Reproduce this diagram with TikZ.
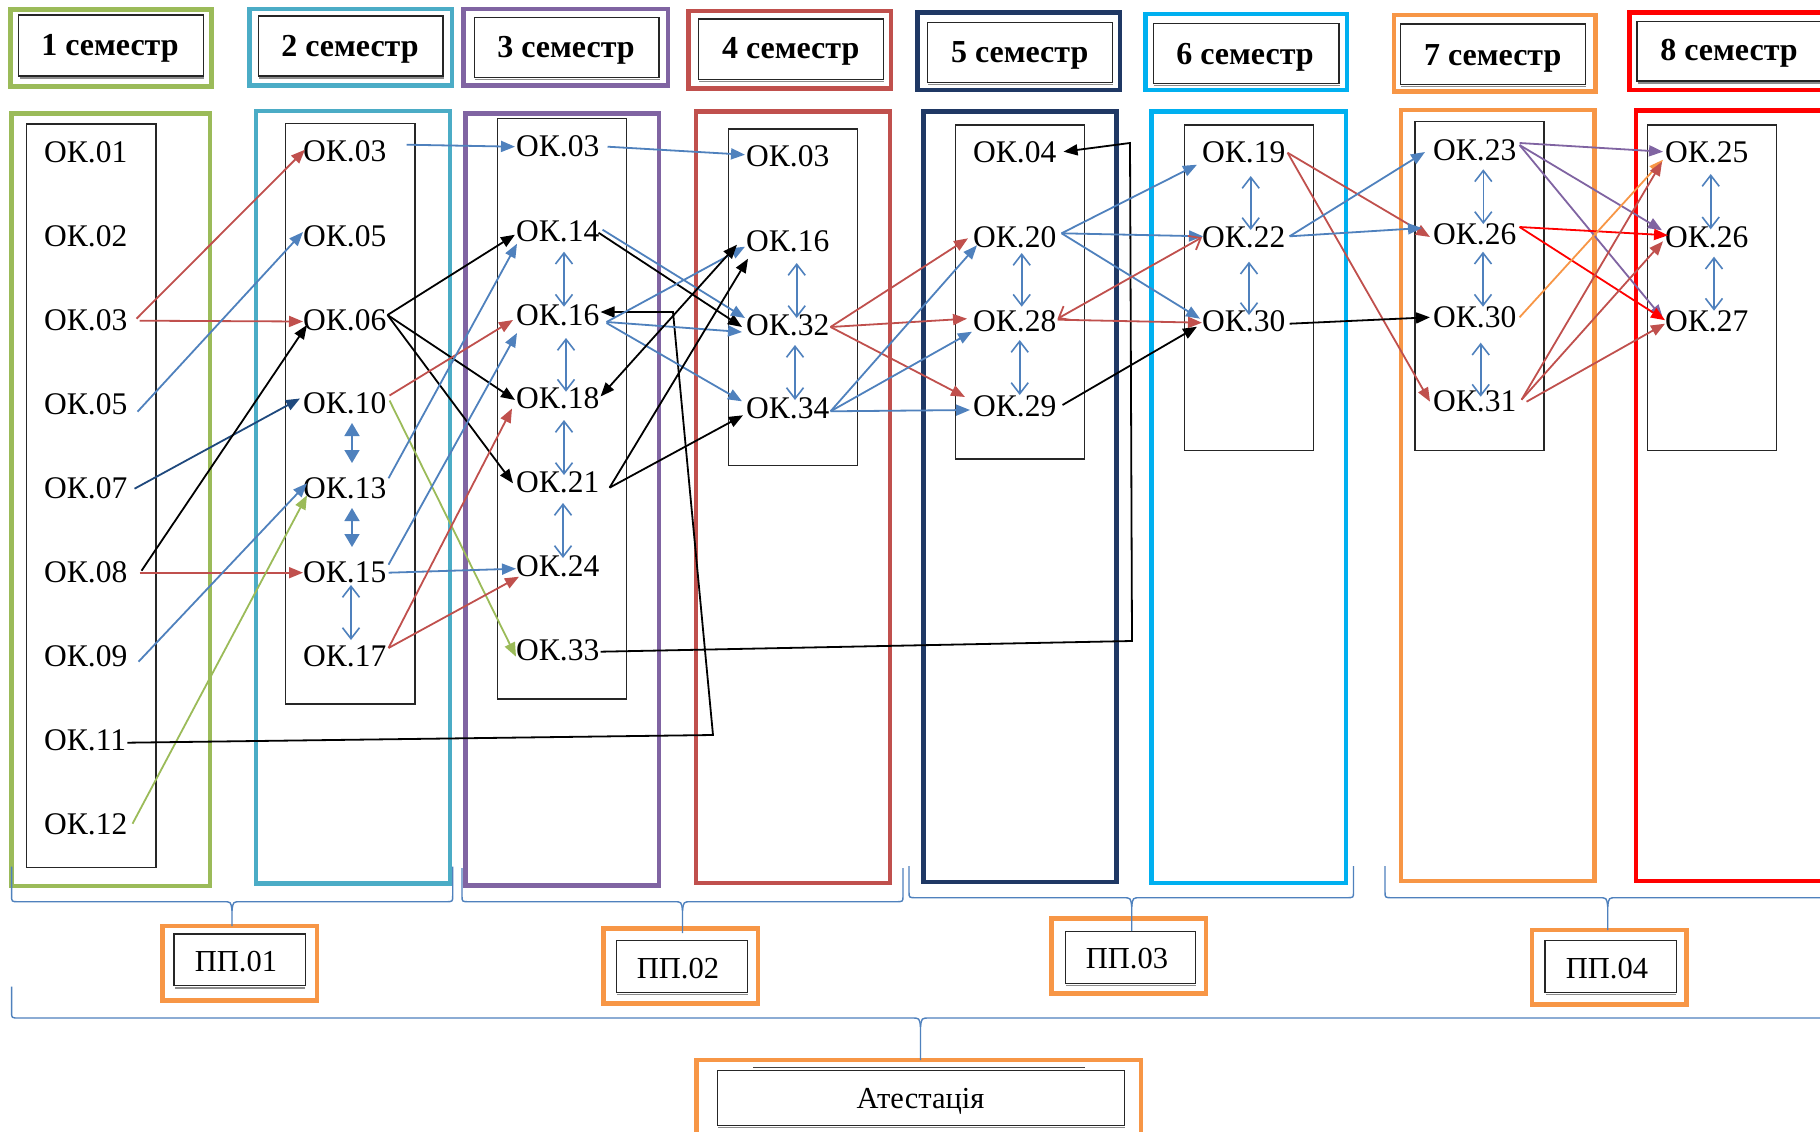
\documentclass[tikz,border=0pt]{standalone}
\usepackage{fontspec}
\setmainfont{Liberation Serif}
\usetikzlibrary{arrows.meta}
\definecolor{cred}{HTML}{C0504D}
\definecolor{cblue}{HTML}{4F81BD}
\definecolor{cnavy}{HTML}{1F497D}
\definecolor{cgreen}{HTML}{9BBB59}
\definecolor{cpurple}{HTML}{8064A2}
\definecolor{corange}{HTML}{F79646}
\definecolor{cbred}{HTML}{FF0000}
\definecolor{cteal}{HTML}{4BACC6}
\definecolor{cdnavy}{HTML}{1F3864}
\definecolor{ccyan}{HTML}{00B0F0}
\newcommand{\wbrace}[6]{%
 \draw[bracestyle] (#1,#3) -- (#1,#4-6) .. controls (#1,#4) .. (#1+7,#4) -- (#5-9,#4) .. controls (#5-1,#4) .. (#5,#4+9) -- (#5,#6);
 \draw[bracestyle] (#5,#4+9) .. controls (#5+1,#4) .. (#5+9,#4) -- (#2-7,#4) .. controls (#2,#4) .. (#2,#4-6) -- (#2,#3);}
\begin{document}
\begin{tikzpicture}[x=1pt,y=-1pt,
  ok/.style={font=\fontsize{31.5}{36}\selectfont, inner sep=0pt, anchor=west},
  sem/.style={font=\fontsize{32}{36}\selectfont\bfseries, inner sep=0pt, anchor=base},
  pp/.style={font=\fontsize{30.5}{36}\selectfont, inner sep=0pt},
  ar/.style={line width=1.8pt, -{Triangle[length=14pt,width=11pt]}},
  bar/.style={line width=1.8pt, {Triangle[length=14pt,width=11pt]}-{Triangle[length=14pt,width=11pt]}},
  oar/.style={line width=1.8pt, {Straight Barb[length=10pt,width=16pt]}-{Straight Barb[length=10pt,width=16pt]}},
  vd/.style={cblue, line width=1.6pt, {Straight Barb[length=11pt,width=17pt]}-{Straight Barb[length=11pt,width=17pt]}},
  vdf/.style={cblue, line width=1.6pt, {Triangle[length=13pt,width=15pt]}-{Triangle[length=13pt,width=15pt]}},
  outerbox/.style={line width=4.5pt},
  innerbox/.style={line width=1.3pt, draw=black!85},
  shadowline/.style={line width=1.5pt, black!45},
  bracestyle/.style={cblue, line width=1.4pt}]
\useasboundingbox (0,0) rectangle (1820,1132);
\clip (0,0) rectangle (1820,1132);
\fill[white] (0,0) rectangle (1820,1132);

% ---------- semester headers ----------
\draw[outerbox, cgreen]  (10.6,9.3) rectangle (211.3,86.7);
\draw[outerbox, cteal]   (249.4,9) rectangle (451.9,85.7);
\draw[outerbox, cpurple] (463.6,9) rectangle (667.8,85.7);
\draw[outerbox, cred]    (688.4,11) rectangle (890.8,88.3);
\draw[outerbox, cdnavy]  (917.6,12.7) rectangle (1120,90);
\draw[outerbox, ccyan]   (1145.3,14) rectangle (1347.2,90);
\draw[outerbox, corange] (1394,15) rectangle (1595.4,91.7);
\draw[outerbox, cbred]   (1629.5,12.7) rectangle (1860,90);
\draw[innerbox] (18.8,15) rectangle (203.6,76);
\draw[innerbox] (258.2,16) rectangle (443,76);
\draw[innerbox] (474.2,17.3) rectangle (659,77.3);
\draw[innerbox] (698.4,19) rectangle (883.2,79.3);
\draw[innerbox] (927.6,22.3) rectangle (1112.4,82.3);
\draw[innerbox] (1153.5,23.3) rectangle (1339,83.3);
\draw[innerbox] (1400.6,24) rectangle (1585.4,84.3);
\draw[innerbox] (1637,21.7) rectangle (1850,81);
\foreach \xa/\xb/\yy in {20/204/78, 259/444/78, 475/660/79.3, 699/884/81.3, 928/1113/84.3, 1154/1340/85.3, 1401/1586/86.3, 1638/1850/83}
  \draw[shadowline] (\xa,\yy) -- (\xb,\yy);
\node[sem] (s1) at (110,56) {1 семестр};
\node[sem] (s2) at (350,57) {2 семестр};
\node[sem] (s3) at (566,58) {3 семестр};
\node[sem] (s4) at (790.7,59) {4 семестр};
\node[sem] (s5) at (1019.7,63) {5 семестр};
\node[sem] (s6) at (1245,64) {6 семестр};
\node[sem] (s7) at (1492.7,66) {7 семестр};
\node[sem] (s8) at (1729,61) {8 семестр};

% ---------- column boxes ----------
\draw[outerbox, cgreen]  (11.7,113.3) rectangle (210,886);
\draw[outerbox, cteal]   (256,111) rectangle (450,883.3);
\draw[outerbox, cpurple] (465.7,113.3) rectangle (659,885.6);
\draw[outerbox, cred]    (696,111.7) rectangle (890,883);
\draw[outerbox, cdnavy]  (923.3,111.7) rectangle (1116.7,882);
\draw[outerbox, ccyan]   (1151.7,111.7) rectangle (1346,883);
\draw[outerbox, corange] (1401,110) rectangle (1594.3,881);
\draw[outerbox, cbred]   (1636,110.7) rectangle (1860,881);
\draw[innerbox] (26.7,124) rectangle (156,867.7);
\draw[innerbox] (285.7,123.3) rectangle (415,704);
\draw[innerbox] (497.7,118.3) rectangle (626.7,699);
\draw[innerbox] (728.3,129) rectangle (857.3,465.7);
\draw[innerbox] (955.3,125) rectangle (1084.3,459);
\draw[innerbox] (1184.3,125) rectangle (1313.7,450.7);
\draw[innerbox] (1415,121.7) rectangle (1544,450.7);
\draw[innerbox] (1647.3,125) rectangle (1776.7,450.7);

% ---------- nodes ----------
\node[ok] (a01) at (44,152.7) {ОК.01};
\node[ok] (a02) at (44,236.7) {ОК.02};
\node[ok] (a03) at (44,320.7) {ОК.03};
\node[ok] (a05) at (44,404.7) {ОК.05};
\node[ok] (a07) at (44,488.7) {ОК.07};
\node[ok] (a08) at (44,572.7) {ОК.08};
\node[ok] (a09) at (44,656.7) {ОК.09};
\node[ok] (a11) at (44,740.7) {ОК.11};
\node[ok] (a12) at (44,824.7) {ОК.12};

\node[ok] (b03) at (303,151.7) {ОК.03};
\node[ok] (b05) at (303,236) {ОК.05};
\node[ok] (b06) at (303,320) {ОК.06};
\node[ok] (b10) at (303,403.5) {ОК.10};
\node[ok] (b13) at (303,488.3) {ОК.13};
\node[ok] (b15) at (303,572.7) {ОК.15};
\node[ok] (b17) at (303,656) {ОК.17};

\node[ok] (c03) at (516,146.7) {ОК.03};
\node[ok] (c14) at (516,231.7) {ОК.14};
\node[ok] (c16) at (516,315) {ОК.16};
\node[ok] (c18) at (516,398.5) {ОК.18};
\node[ok] (c21) at (516,482.7) {ОК.21};
\node[ok] (c24) at (516,566.7) {ОК.24};
\node[ok] (c33) at (516,650.7) {ОК.33};

\node[ok] (d03) at (746,156.7) {ОК.03};
\node[ok] (d16) at (746,241.7) {ОК.16};
\node[ok] (d32) at (746,325) {ОК.32};
\node[ok] (d34) at (746,408.3) {ОК.34};

\node[ok] (e04) at (973,152.7) {ОК.04};
\node[ok] (e20) at (973,237.3) {ОК.20};
\node[ok] (e28) at (973,321.7) {ОК.28};
\node[ok] (e29) at (973,406) {ОК.29};

\node[ok] (f19) at (1202,152.7) {ОК.19};
\node[ok] (f22) at (1202,237.3) {ОК.22};
\node[ok] (f30) at (1202,321.7) {ОК.30};

\node[ok] (g23) at (1433,150) {ОК.23};
\node[ok] (g26) at (1433,234) {ОК.26};
\node[ok] (g30) at (1433,317.3) {ОК.30};
\node[ok] (g31) at (1433,401.7) {ОК.31};

\node[ok] (h25) at (1665,152.7) {ОК.25};
\node[ok] (h26) at (1665,237.3) {ОК.26};
\node[ok] (h27) at (1665,321.7) {ОК.27};

% ---------- vertical double arrows ----------
\draw[vdf] ([xshift=49pt,yshift=-19.5pt]b10.west) -- ([xshift=49pt,yshift=25.3pt]b13.west);
\draw[vdf] ([xshift=49pt,yshift=-19.7pt]b13.west) -- ([xshift=49pt,yshift=25.7pt]b15.west);
\draw[vd] ([xshift=48pt,yshift=-12.3pt]b15.west) -- ([xshift=48pt,yshift=16pt]b17.west);
\draw[vd] ([xshift=48pt,yshift=-20pt]c14.west) -- ([xshift=48pt,yshift=8.3pt]c16.west);
\draw[vd] ([xshift=50pt,yshift=-23pt]c16.west) -- ([xshift=50pt,yshift=6.8pt]c18.west);
\draw[vd] ([xshift=48pt,yshift=-21.5pt]c18.west) -- ([xshift=48pt,yshift=7.7pt]c21.west);
\draw[vd] ([xshift=47pt,yshift=-20.3pt]c21.west) -- ([xshift=47pt,yshift=8.7pt]c24.west);
\draw[vd] ([xshift=50.7pt,yshift=-21.3pt]d16.west) -- ([xshift=50.7pt,yshift=7pt]d32.west);
\draw[vd] ([xshift=49pt,yshift=-20pt]d32.west) -- ([xshift=49pt,yshift=8.3pt]d34.west);
\draw[vd] ([xshift=48.7pt,yshift=-15.7pt]e20.west) -- ([xshift=48.7pt,yshift=15pt]e28.west);
\draw[vd] ([xshift=46.7pt,yshift=-18.3pt]e28.west) -- ([xshift=46.7pt,yshift=11pt]e29.west);
\draw[vd] ([xshift=48.7pt,yshift=-23.3pt]f19.west) -- ([xshift=48.7pt,yshift=7.3pt]f22.west);
\draw[vd] ([xshift=47pt,yshift=-24.4pt]f22.west) -- ([xshift=47pt,yshift=6.7pt]f30.west);
\draw[vd] ([xshift=50.3pt,yshift=-19.3pt]g23.west) -- ([xshift=50.3pt,yshift=10pt]g26.west);
\draw[vd] ([xshift=50pt,yshift=-17.7pt]g26.west) -- ([xshift=50pt,yshift=10.6pt]g30.west);
\draw[vd] ([xshift=47.7pt,yshift=-25.4pt]g30.west) -- ([xshift=47.7pt,yshift=5pt]g31.west);
\draw[vd] ([xshift=45.7pt,yshift=-21.3pt]h25.west) -- ([xshift=45.7pt,yshift=8pt]h26.west);
\draw[vd] ([xshift=49pt,yshift=-19.4pt]h26.west) -- ([xshift=49pt,yshift=11pt]h27.west);

% ---------- column 1 -> column 2 ----------
\draw[ar, cred] ([xshift=9pt,yshift=2pt]a03.east) -- ([xshift=2pt,yshift=2pt]b03.west);
\draw[ar, cred] ([xshift=12pt]a03.east) -- ([yshift=-1.5pt]b06.west);
\draw[ar, cblue] ([xshift=10pt,yshift=-7pt]a05.east) -- ([yshift=4pt]b05.west);
\draw[ar, cnavy] ([xshift=7pt]a07.east) -- ([xshift=-3pt,yshift=5pt]b10.west);
\draw[ar, black] ([xshift=14pt,yshift=2pt]a08.east) -- ([xshift=4pt,yshift=-5pt]b06.west);
\draw[ar, cred] ([xshift=12pt]a08.east) -- (b15.west);
\draw[ar, cblue] ([xshift=11pt,yshift=-5pt]a09.east) -- ([xshift=4pt,yshift=5pt]b13.west);
\draw[ar, cgreen] ([xshift=5pt,yshift=1pt]a12.east) -- ([xshift=4pt,yshift=-7pt]b13.west);
\draw[ar, black] ([xshift=1pt,yshift=-2pt]a11.east) -- (713,735) -- (673,312) -- ([xshift=1pt,yshift=3pt]c16.east);

% ---------- column 2 -> column 3 ----------
\draw[ar, cblue] ([xshift=20pt,yshift=7pt]b03.east) -- ([xshift=-1pt]c03.west);
\draw[ar, black] ([xshift=1pt,yshift=5pt]b06.east) -- ([xshift=-1pt,yshift=-3pt]c14.west);
\draw[ar, black] ([xshift=1pt,yshift=5pt]b06.east) -- ([xshift=-1pt,yshift=-1.5pt]c18.west);
\draw[ar, black] ([xshift=1pt,yshift=5pt]b06.east) -- ([xshift=-3pt,yshift=-0.6pt]c21.west);
\draw[ar, cred] ([xshift=3pt,yshift=8pt]b10.east) -- ([xshift=-3pt,yshift=-5pt]c16.west);
\draw[ar, cgreen] ([xshift=3pt,yshift=3pt]b10.east) -- ([yshift=-6pt]c33.west);
\draw[ar, cblue] ([xshift=2pt,yshift=10pt]b13.east) -- ([xshift=1pt,yshift=-12pt]c14.west);
\draw[ar, cblue] ([xshift=2pt,yshift=8pt]b15.east) -- ([xshift=1pt,yshift=-18pt]c16.west);
\draw[ar, cblue] ([xshift=2pt]b15.east) -- ([yshift=-2pt]c24.west);
\draw[ar, cred] ([xshift=2pt,yshift=8pt]b17.east) -- ([xshift=-4pt,yshift=-10pt]c18.west);
\draw[ar, cred] ([xshift=2pt,yshift=8pt]b17.east) -- ([xshift=3pt,yshift=-10pt]c24.west);

% ---------- column 3 -> column 4 ----------
\draw[ar, cblue] ([xshift=8pt]c03.east) -- ([xshift=-1pt,yshift=2pt]d03.west);
\draw[ar, black] ([xshift=-1pt,yshift=-1pt]c14.east) -- ([xshift=-4pt,yshift=-2pt]d32.west);
\draw[ar, cblue] ([xshift=3pt,yshift=2pt]c14.east) -- ([xshift=-1pt,yshift=7pt]d32.west);
\draw[ar, cblue] ([xshift=7pt,yshift=-7pt]c16.east) -- ([xshift=-1pt,yshift=-5pt]d16.west);
\draw[ar, cblue] ([xshift=7pt,yshift=-7pt]c16.east) -- ([xshift=-4pt,yshift=-7pt]d32.west);
\draw[ar, cblue] ([xshift=7pt,yshift=-8pt]c16.east) -- ([xshift=-4pt,yshift=7pt]d34.west);
\draw[bar, black] ([xshift=1pt,yshift=2pt]c18.east) -- ([xshift=-9pt,yshift=-3pt]d16.west);
\draw[ar, black] ([xshift=10pt,yshift=-5pt]c21.east) -- ([xshift=2pt,yshift=-17pt]d16.west);
\draw[ar, black] ([xshift=10pt,yshift=-5pt]c21.east) -- ([xshift=-3pt,yshift=-7pt]d34.west);
\draw[ar, black] ([xshift=1pt,yshift=-1pt]c33.east) -- (1132,641) -- (1130,143) -- ([xshift=7pt,yshift=1pt]e04.east);

% ---------- column 4 -> column 5 ----------
\draw[ar, cred] ([xshift=1pt,yshift=-2pt]d32.east) -- ([xshift=-5pt,yshift=-1pt]e20.west);
\draw[ar, cred] ([xshift=1pt,yshift=-2pt]d32.east) -- ([xshift=-6pt,yshift=3pt]e28.west);
\draw[ar, cred] ([xshift=1pt,yshift=-2pt]d32.east) -- ([xshift=-8pt,yshift=9pt]e29.west);
\draw[ar, cblue] ([xshift=1pt,yshift=-3pt]d34.east) -- ([xshift=4pt,yshift=-8pt]e20.west);
\draw[ar, cblue] ([xshift=1pt,yshift=-3pt]d34.east) -- ([xshift=-1pt,yshift=-10pt]e28.west);
\draw[ar, cblue] ([xshift=1pt,yshift=-3pt]d34.east) -- ([xshift=-3pt,yshift=-4pt]e29.west);

% ---------- column 5 -> column 6 ----------
\draw[ar, cblue] ([xshift=5pt,yshift=4pt]e20.east) -- ([xshift=-5pt,yshift=-12pt]f19.west);
\draw[ar, cblue] ([xshift=5pt,yshift=4pt]e20.east) -- ([xshift=1pt,yshift=1pt]f22.west);
\draw[ar, cblue] ([xshift=5pt,yshift=4pt]e20.east) -- ([xshift=-2pt,yshift=3pt]f30.west);
\draw[oar, cred] ([xshift=1pt,yshift=3pt]e28.east) -- (f22.west);
\draw[ar, cred] ([xshift=1pt,yshift=2pt]e28.east) -- ([yshift=-1pt]f30.west);
\draw[ar, black] ([xshift=6pt,yshift=1pt]e29.east) -- ([xshift=-5pt,yshift=-5pt]f30.west);

% ---------- column 6 -> column 7 ----------
\draw[ar, cred] ([xshift=2pt]f19.east) -- ([xshift=-3pt,yshift=-3pt]g26.west);
\draw[ar, cred] ([xshift=2pt]f19.east) -- ([xshift=-3pt]g31.west);
\draw[ar, cblue] ([xshift=4pt,yshift=1pt]f22.east) -- ([xshift=-8pt,yshift=-2pt]g23.west);
\draw[ar, cblue] ([xshift=4pt,yshift=1pt]f22.east) -- ([xshift=-11pt,yshift=6pt]g26.west);
\draw[ar, black] ([xshift=4pt,yshift=-2pt]f30.east) -- ([xshift=-3pt]g30.west);

% ---------- column 7 -> column 8 ----------
\draw[ar, cpurple] ([xshift=3pt,yshift=7pt]g23.east) -- ([xshift=-2pt,yshift=1pt]h25.west);
\draw[ar, cpurple] ([xshift=3pt,yshift=5pt]g23.east) -- ([xshift=-3pt,yshift=7pt]h26.west);
\draw[ar, cpurple] ([xshift=3pt,yshift=5pt]g23.east) -- ([xshift=-2pt,yshift=3pt]h27.west);
\draw[ar, cbred] ([xshift=3pt,yshift=7pt]g26.east) -- ([xshift=3pt,yshift=2pt]h26.west);
\draw[ar, cbred] ([xshift=3pt,yshift=7pt]g26.east) -- ([yshift=1.5pt]h27.west);
\draw[ar, corange] ([xshift=3pt]g30.east) -- ([xshift=-2pt,yshift=-7pt]h25.west);
\draw[ar, cred] ([xshift=5pt,yshift=2pt]g31.east) -- ([xshift=-3pt,yshift=-9pt]h25.west);
\draw[ar, cred] ([xshift=5pt,yshift=2pt]g31.east) -- ([xshift=-2pt,yshift=-4pt]h26.west);
\draw[ar, cred] ([xshift=10pt]g31.east) -- ([yshift=-2pt]h27.west);

% ---------- practice boxes ----------
\draw[outerbox, corange] (162.5,926) rectangle (316.9,1000.7);
\draw[innerbox] (174,934) rectangle (305.3,985.7);
\draw[shadowline] (175,988) -- (305.3,988);
\node[pp] (pp1) at (236,962) {ПП.01};
\draw[outerbox, corange] (603.6,928.3) rectangle (758,1003.3);
\draw[innerbox] (616.4,940.7) rectangle (747.5,992.3);
\draw[shadowline] (617,994.6) -- (747.5,994.6);
\node[pp] (pp2) at (678,969) {ПП.02};
\draw[outerbox, corange] (1051.7,918.3) rectangle (1206,993.3);
\draw[innerbox] (1065.6,931.3) rectangle (1195.6,983.3);
\draw[shadowline] (1066,985.6) -- (1195.6,985.6);
\node[pp] (pp3) at (1127,959) {ПП.03};
\draw[outerbox, corange] (1532.2,930) rectangle (1686.6,1004.3);
\draw[innerbox] (1545,940.7) rectangle (1676.2,992.3);
\draw[shadowline] (1546,994.6) -- (1676.2,994.6);
\node[pp] (pp4) at (1607,969) {ПП.04};
\draw[outerbox, corange] (696.5,1060) rectangle (1141,1145);
\draw[innerbox] (717.4,1070.7) rectangle (1124.8,1125.3);
\draw[line width=1.3pt, black!75] (753.3,1067.4) -- (1085.3,1067.4);
\draw[shadowline] (718,1127.6) -- (1124.8,1127.6);
\node[pp, anchor=base] (att) at (920.5,1108.3) {Атестація};

% ---------- braces ----------
\wbrace{11.6}{452.7}{866.7}{901.7}{232}{926}
\wbrace{462}{903}{868}{901.7}{682.5}{933}
\wbrace{909}{1353.5}{866}{897.7}{1131.7}{931}
\wbrace{1385}{1830}{866}{897.7}{1607.7}{930}
\wbrace{11.6}{1830}{986.7}{1018}{920.5}{1060}
\end{tikzpicture}
\end{document}
